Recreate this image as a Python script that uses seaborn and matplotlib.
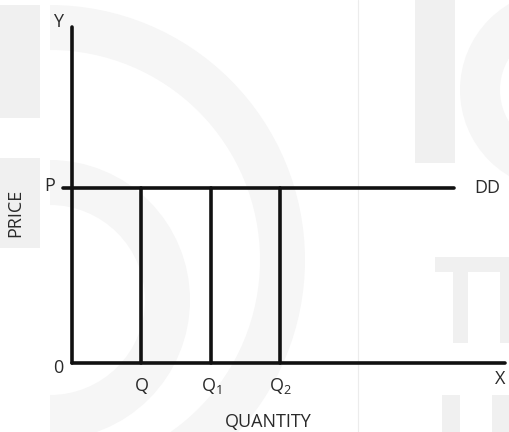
import numpy as np
import pandas as pd
import seaborn as sns
import matplotlib.pyplot as plt
from matplotlib.patches import Rectangle, Wedge

# quantities where vertical drops meet the demand line
q_labels = ["Q", "$\\mathregular{Q_1}$", "$\\mathregular{Q_2}$"]
q_values = [1.0, 2.0, 3.0]
price_p = 5.0
dd_end = 5.5
x_axis_end = 6.23
y_axis_top = 9.6

sns.set_style("white")
plt.rcParams['font.family'] = ['Open Sans', 'DejaVu Sans']

fig = plt.figure(figsize=(5.09, 4.32), dpi=100)

# faint watermark behind the diagram
bg = fig.add_axes([0, 0, 1, 1])
bg.set_xlim(0, 509)
bg.set_ylim(432, 0)
bg.axis("off")
wm = "#f0f0f0"
arc = "#f6f6f6"
bg.add_patch(Rectangle((0, 5), 40, 113, color=wm, lw=0))
bg.add_patch(Rectangle((0, 158), 40, 90, color=wm, lw=0))
bg.add_patch(Wedge((50, 260), 255, 270, 360, width=45, color=arc, lw=0))
bg.add_patch(Wedge((50, 260), 255, 0, 90, width=45, color=arc, lw=0))
bg.add_patch(Wedge((50, 300), 140, 270, 360, width=45, color=arc, lw=0))
bg.add_patch(Wedge((50, 300), 140, 0, 90, width=45, color=arc, lw=0))
bg.add_patch(Rectangle((415, 0), 40, 163, color=wm, lw=0))
bg.add_patch(Wedge((560, 90), 100, 90, 270, width=40, color=arc, lw=0))
bg.add_patch(Rectangle((435, 257), 74, 15, color=wm, lw=0))
bg.add_patch(Rectangle((453, 257), 15, 86, color=wm, lw=0))
bg.add_patch(Rectangle((500, 257), 9, 86, color=wm, lw=0))
bg.add_patch(Rectangle((442, 395), 18, 37, color=wm, lw=0))
bg.add_patch(Rectangle((492, 395), 17, 37, color=wm, lw=0))
bg.plot([358, 358], [0, 432], color="#ececec", lw=0.8)

ax = fig.add_axes([0, 0, 1, 1])
ax.patch.set_alpha(0)

rows = []
rows += [("yaxis", 0, 0), ("yaxis", 0, y_axis_top)]
rows += [("xaxis", 0, 0), ("xaxis", x_axis_end, 0)]
rows += [("dd", -0.13, price_p), ("dd", dd_end, price_p)]
for i, q in enumerate(q_values):
    rows += [(f"q{i}", q, 0), (f"q{i}", q, price_p)]
seg = pd.DataFrame(rows, columns=["seg", "quantity", "price"])

sns.lineplot(data=seg, x="quantity", y="price", units="seg", estimator=None,
             sort=False, color="#111111", lw=2.6, ax=ax)

ax.set_xlim(-1.036, 6.288)
ax.set_ylim(-1.971, 10.371)
ax.axis("off")

fs = 13
tc = "#2a2a2a"
ax.text(-0.2, y_axis_top + 0.15, "Y", fontsize=fs, color=tc, ha="center", va="center")
ax.text(-0.32, price_p + 0.05, "P", fontsize=fs, color=tc, ha="center", va="center")
ax.text(-0.2, -0.15, "0", fontsize=fs, color=tc, ha="center", va="center")
ax.text(6.16, -0.45, "X", fontsize=fs, color=tc, ha="center", va="center")
ax.text(dd_end + 0.48, price_p, "DD", fontsize=fs, color=tc, ha="center", va="center")
for q, lab in zip(q_values, q_labels):
    ax.text(q, -0.65, lab, fontsize=fs, color=tc, ha="center", va="center")
ax.text(2.83, -1.68, "QUANTITY", fontsize=fs, color=tc, ha="center", va="center")
ax.text(-0.82, 4.3, "PRICE", fontsize=fs, color=tc, ha="center", va="center", rotation=90)

fig.savefig("out.png", dpi=100)
